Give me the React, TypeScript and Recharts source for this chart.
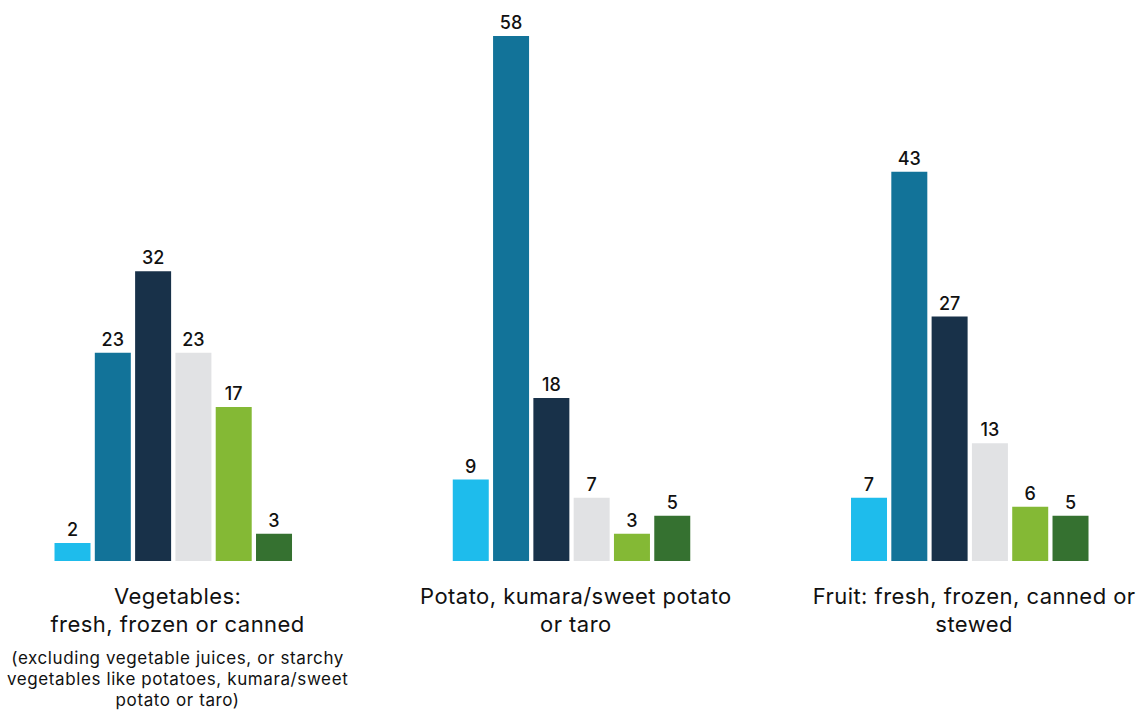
import {BarChart, Bar, XAxis, YAxis, LabelList} from 'recharts';

// group labels (split into lines) and the extra note under the first group
const categoryLines = [
    ['Vegetables:', 'fresh, frozen or canned'],
    ['Potato, kumara/sweet potato', 'or taro'],
    ['Fruit: fresh, frozen, canned or', 'stewed'],
];
const categoryNotes = [
    ['(excluding vegetable juices, or starchy', 'vegetables like potatoes, kumara/sweet', 'potato or taro)'],
    [],
    [],
];

// six series, one value per group
const series1 = [2, 9, 7];
const series2 = [23, 58, 43];
const series3 = [32, 18, 27];
const series4 = [23, 7, 13];
const series5 = [17, 3, 6];
const series6 = [3, 5, 5];

const seriesKeys = ['s1', 's2', 's3', 's4', 's5', 's6'];
const seriesColors = ['#1ebcec', '#127399', '#183149', '#e1e2e4', '#84b935', '#357130'];

const chartData = categoryLines.map((_, i) => ({
    idx: i,
    s1: series1[i],
    s2: series2[i],
    s3: series3[i],
    s4: series4[i],
    s5: series5[i],
    s6: series6[i],
}));

const FONT = 'Inter, "Liberation Sans", Arial, sans-serif';

function GroupTick({x, y, payload}: any) {
    const i = payload.value as number;
    const lines = categoryLines[i] || [];
    const notes = categoryNotes[i] || [];
    return (
        <g transform={`translate(${x},${y})`}>
            <text textAnchor="middle" fontFamily={FONT} fontSize={22} letterSpacing={0.45} fill="#111">
                {lines.map((l, k) => (
                    <tspan key={k} x={4} y={42.5 + k * 28}>{l}</tspan>
                ))}
            </text>
            {notes.length > 0 && (
                <text textAnchor="middle" fontFamily={FONT} fontSize={17} letterSpacing={0.6} fill="#111">
                    {notes.map((l, k) => (
                        <tspan key={k} x={4} y={102.5 + k * 21}>{l}</tspan>
                    ))}
                </text>
            )}
        </g>
    );
}

export default function App() {
    return (
        <div style={{position: 'absolute', left: 0, top: 0, background: '#fff'}}>
            <BarChart width={1139} height={714} data={chartData}
                      margin={{top: 36, right: 0, left: 0, bottom: 0}}
                      barSize={36} barGap={4.3}>
                <XAxis dataKey="idx" type="number" domain={[-0.436, 2.424]} ticks={[0, 1, 2]}
                       axisLine={false} tickLine={false} tickSize={0} tickMargin={0}
                       height={153} tick={<GroupTick/>} interval={0}/>
                <YAxis hide domain={[0, 58]}/>
                {seriesKeys.map((key, k) => (
                    <Bar key={key} dataKey={key} fill={seriesColors[k]} isAnimationActive={false}>
                        <LabelList dataKey={key} position="top" offset={7} fill="#111"
                                   fontSize={18} fontWeight={500} fontFamily={FONT}/>
                    </Bar>
                ))}
            </BarChart>
        </div>
    );
}
